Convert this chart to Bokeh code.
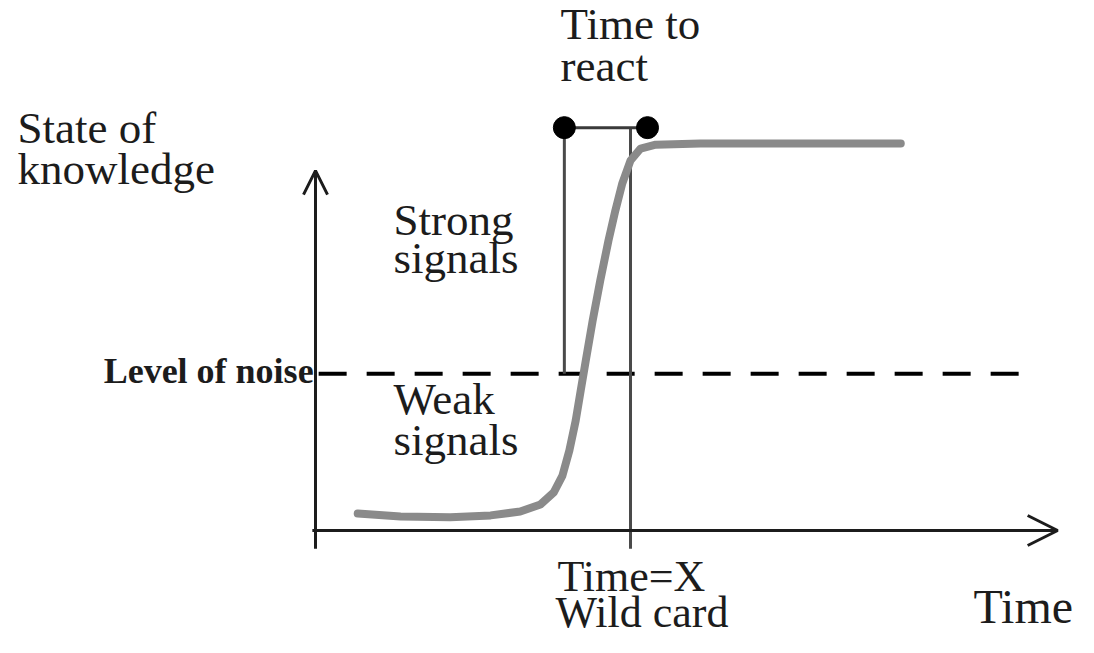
from bokeh.plotting import figure
from bokeh.models import Range1d, Arrow, OpenHead
from bokeh.core.properties import value
from bokeh.embed import file_html
from bokeh.resources import INLINE

# ---- data (time units along x, knowledge units along y) ----
time = [0.67, 1.35, 2.14, 2.78, 3.25, 3.57, 3.78, 3.92, 4.03, 4.13, 4.21, 4.29,
        4.40, 4.52, 4.65, 4.76, 4.87, 5.00, 5.16, 5.40, 6.11, 7.70, 9.29]
knowledge = [0.44, 0.36, 0.34, 0.39, 0.49, 0.67, 0.98, 1.42, 2.07, 2.84, 3.62, 4.39,
             5.43, 6.46, 7.49, 8.27, 8.97, 9.56, 9.87, 9.97, 10.0, 10.0, 10.0]
noise_level = 4.05
wild_card_time = 5.0
react_start = 3.95
react_end = 5.27
react_level = 10.41
axis_max_time = 11.78
axis_max_knowledge = 9.30
axis_min_knowledge = -0.47
noise_start, noise_end = 0.05, 11.27

FONT = value("Liberation Serif")
INK = "#1c1c1c"

p = figure(width=1078, height=637, output_backend="svg", toolbar_location=None,
           x_range=Range1d(-5.0, 12.111), y_range=Range1d(-2.765, 13.695),
           min_border=0, outline_line_color=None, background_fill_color="white")
p.xgrid.visible = False
p.ygrid.visible = False
p.xaxis.visible = False
p.yaxis.visible = False

# axes with open arrow heads
p.add_layout(Arrow(end=OpenHead(size=30, line_width=3, line_color=INK),
                   x_start=-0.05, y_start=0, x_end=axis_max_time, y_end=0,
                   line_width=3, line_color=INK))
p.add_layout(Arrow(end=OpenHead(size=24, line_width=3, line_color=INK),
                   x_start=0, y_start=axis_min_knowledge, x_end=0, y_end=axis_max_knowledge,
                   line_width=3, line_color=INK))

# level of noise
p.line([noise_start, noise_end], [noise_level, noise_level], line_width=4,
       line_color="black", line_dash="28 20")

# wild card marker and reaction window
p.line([wild_card_time, wild_card_time], [axis_min_knowledge, react_level],
       line_width=3, line_color="#4a4a4a")
p.line([react_start, react_start], [noise_level, react_level],
       line_width=3, line_color="#4a4a4a")
p.line([react_start, react_end], [react_level, react_level],
       line_width=3, line_color="#3a3a3a")

# state of knowledge curve
p.line(time, knowledge, line_width=8, line_color="#8a8a8a",
       line_cap="round", line_join="round")

p.scatter([react_start, react_end], [react_level, react_level], size=22,
          fill_color="black", line_color="black")

# labels
def label(x, y, txt, size, align="left", style="normal"):
    p.text([x], [y], text=[txt], text_font=FONT, text_font_size=f"{size}px",
           text_color=INK, text_align=align, text_baseline="alphabetic",
           text_font_style=style)

label(3.889, 13.10, "Time to", 45)
label(3.889, 11.99, "react", 45)
label(-4.73, 10.39, "State of", 45)
label(-4.73, 9.33, "knowledge", 45)
label(1.238, 8.03, "Strong", 45)
label(1.238, 7.03, "signals", 45)
label(1.238, 3.41, "Weak", 45)
label(1.238, 2.35, "signals", 45)
label(-0.03, 4.11, "Level of noise", 36, align="right", style="bold")
label(3.841, -1.19, "Time=X", 44)
label(3.810, -2.11, "Wild card", 44)
label(10.444, -1.96, "Time", 48)

open("out.html", "w").write(file_html(p, INLINE))
